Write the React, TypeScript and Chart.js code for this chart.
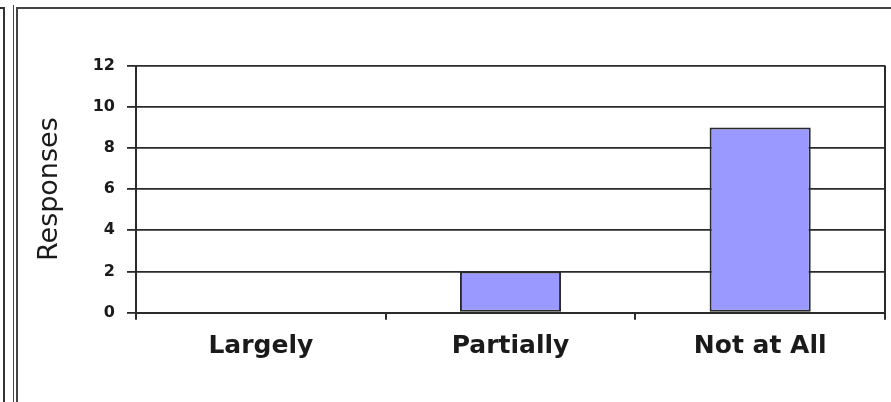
import React, { useEffect, useRef } from "react";
import { Chart, registerables } from "chart.js";

Chart.register(...registerables);

const categories: string[] = ["Largely", "Partially", "Not at All"];
const responses: number[] = [0, 2, 9];
const yMin = 0;
const yMax = 12;
const yStep = 2;
const yTitle = "Responses";

export default function App() {
  const ref = useRef<HTMLCanvasElement | null>(null);

  useEffect(() => {
    document.body.style.margin = "0";
    const canvas = ref.current;
    if (!canvas) return;
    const chart = new Chart(canvas, {
      type: "bar",
      data: {
        labels: categories,
        datasets: [
          {
            data: responses,
            backgroundColor: "#9999ff",
            borderColor: "#2a2a2a",
            borderWidth: 2,
            borderSkipped: false,
            barPercentage: 0.405,
            categoryPercentage: 1,
          },
        ],
      },
      options: {
        animation: false,
        responsive: false,
        devicePixelRatio: 1,
        layout: { padding: { top: 65.6, right: 6, left: 0, bottom: 0 } },
        plugins: { legend: { display: false }, tooltip: { enabled: false } },
        scales: {
          x: {
            offset: true,
            grid: {
              offset: true,
              color: (c: any) =>
                c.type !== "tick" || c.index === categories.length ? "#2a2a2a" : "rgba(0,0,0,0)",
              lineWidth: 2,
              tickColor: "#2a2a2a",
              tickLength: 7,
              drawTicks: true,
            },
            border: { display: true, color: "#2a2a2a", width: 2 },
            ticks: {
              color: "#1a1a1a",
              padding: 12,
              font: { family: "'DejaVu Sans', sans-serif", size: 25, weight: "bold" },
            },
            afterFit: (s: any) => {
              s.height = 89.3;
            },
          },
          y: {
            min: yMin,
            max: yMax,
            ticks: {
              stepSize: yStep,
              color: "#1a1a1a",
              padding: 12,
              font: { family: "'DejaVu Sans', sans-serif", size: 16, weight: "bold" },
            },
            grid: {
              color: "#2a2a2a",
              lineWidth: 1.8,
              tickColor: "#2a2a2a",
              tickLength: 9,
            },
            border: { display: true, color: "#2a2a2a", width: 2 },
            title: {
              display: true,
              text: yTitle,
              color: "#1a1a1a",
              font: { family: "'DejaVu Sans', sans-serif", size: 27, weight: "normal" },
              padding: { top: 34, bottom: 0 },
            },
            afterFit: (s: any) => {
              s.width = 136;
            },
          },
        },
      },
    });
    return () => chart.destroy();
  }, []);

  return (
    <div style={{ position: "absolute", left: 0, top: 0, width: 891, height: 402, overflow: "hidden", background: "#fff" }}>
      <div style={{ position: "absolute", left: -20, top: 7, width: 21, height: 500, border: "2px solid #333" }} />
      <div style={{ position: "absolute", left: 13, top: 5, width: 0, height: 500, borderLeft: "1.5px solid #444" }} />
      <div style={{ position: "absolute", left: 16, top: 7, width: 1000, height: 500, border: "2px solid #444" }} />
      <canvas ref={ref} width={891} height={402} style={{ position: "absolute", left: 0, top: 0, width: 891, height: 402 }} />
    </div>
  );
}
